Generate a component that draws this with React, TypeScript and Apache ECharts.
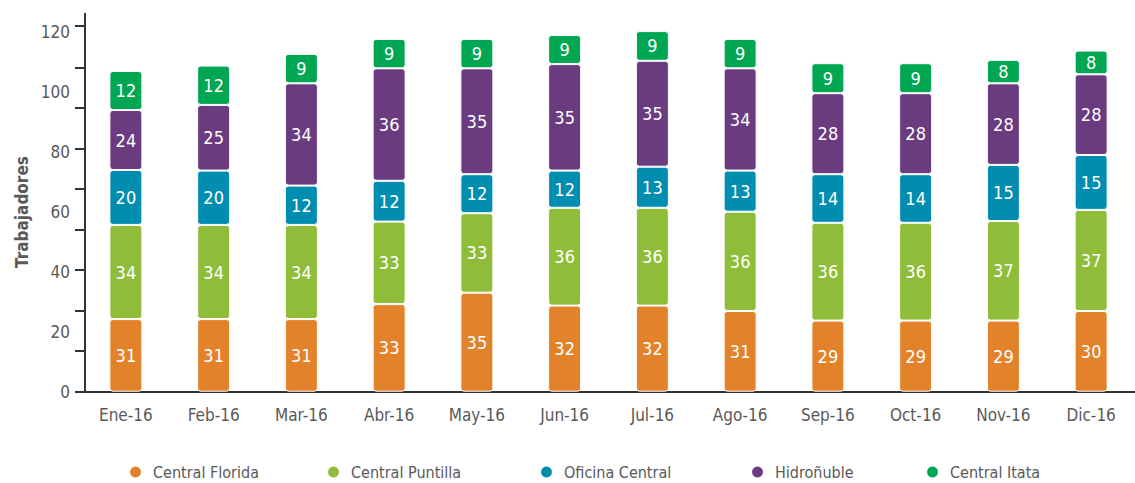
import React, { useEffect, useRef } from 'react';
import * as echarts from 'echarts';

// Categories (months)
const categories = ['Ene-16', 'Feb-16', 'Mar-16', 'Abr-16', 'May-16', 'Jun-16', 'Jul-16', 'Ago-16', 'Sep-16', 'Oct-16', 'Nov-16', 'Dic-16'];

// Series names
const seriesNames = ['Central Florida', 'Central Puntilla', 'Oficina Central', 'Hidroñuble', 'Central Itata'];

// Segment heights as drawn in the picture (axis units)
const floridaHeights = [24.2, 24.2, 24.2, 29.2, 33, 28.7, 28.7, 26.9, 23.7, 23.7, 23.7, 26.9];
const puntillaHeights = [31.4, 31.4, 31.4, 27.5, 26.5, 32.6, 32.6, 33.1, 32.6, 32.6, 33.2, 33.7];
const oficinaHeights = [18.3, 18.1, 13.1, 13.6, 13, 12.4, 13.7, 13.7, 16.2, 16.2, 18.7, 18.3];
const hidroHeights = [20, 21.9, 34.1, 37.5, 35.3, 35.5, 35.3, 34.1, 27, 27, 27.2, 26.9];
const itataHeights = [13, 13.1, 9.8, 9.8, 9.8, 9.7, 9.9, 9.8, 10, 10, 7.8, 7.9];

// Value labels printed on the segments
const floridaLabels = [31, 31, 31, 33, 35, 32, 32, 31, 29, 29, 29, 30];
const puntillaLabels = [34, 34, 34, 33, 33, 36, 36, 36, 36, 36, 37, 37];
const oficinaLabels = [20, 20, 12, 12, 12, 12, 13, 13, 14, 14, 15, 15];
const hidroLabels = [24, 25, 34, 36, 35, 35, 35, 34, 28, 28, 28, 28];
const itataLabels = [12, 12, 9, 9, 9, 9, 9, 9, 9, 9, 8, 8];

// Axis tick labels and tick marks
const yLabelValues = [0, 20, 40, 60, 80, 100, 120];
const yTickValues = [0, 13.5, 27, 40.5, 54, 67.5, 81, 94.5, 108, 122];

const FONT = "'Liberation Sans Narrow', 'DejaVu Sans Condensed', 'Roboto', sans-serif";
const GREY = '#595959';
const colors = ['#E2822A', '#8FBD3A', '#008DB0', '#6A3B7F', '#00A651'];

export default function App() {
  const ref = useRef<HTMLDivElement>(null);

  useEffect(() => {
    document.body.style.margin = '0';
    const chart = echarts.init(ref.current!, null, { renderer: 'svg' });

    const heights = [floridaHeights, puntillaHeights, oficinaHeights, hidroHeights, itataHeights];
    const labels = [floridaLabels, puntillaLabels, oficinaLabels, hidroLabels, itataLabels];

    const series = seriesNames.map((name, i) => ({
      name,
      type: 'bar',
      stack: 'total',
      barWidth: 33,
      data: heights[i],
      itemStyle: { color: colors[i], borderRadius: 3, borderColor: '#fff', borderWidth: 1 },
      label: {
        show: true,
        position: 'inside',
        color: '#fff',
        fontSize: 18,
        fontFamily: FONT,
        formatter: (p: any) => String(labels[i][p.dataIndex]),
      },
    }));

    const legendLefts = [123, 321, 534, 745, 920];
    const legends = seriesNames.map((name, i) => ({
      data: [name],
      left: legendLefts[i],
      top: 459,
      icon: 'circle',
      itemWidth: 25,
      itemHeight: 13,
      selectedMode: false,
      textStyle: { color: GREY, fontSize: 16, fontFamily: FONT },
    }));

    chart.setOption({
      animation: false,
      textStyle: { fontFamily: FONT },
      grid: { left: 82, top: 13.7, bottom: 91.3, right: -8, containLabel: false },
      legend: legends,
      xAxis: {
        type: 'category',
        data: categories,
        axisLine: { show: true, lineStyle: { color: '#333', width: 2 } },
        axisTick: { show: false },
        axisLabel: { color: GREY, fontSize: 17, fontFamily: FONT, margin: 15 },
      },
      yAxis: {
        type: 'value',
        min: 0,
        max: 126,
        interval: 20,
        offset: -3,
        axisLine: { show: true, lineStyle: { color: '#333', width: 2 } },
        axisTick: { show: true, length: 10, customValues: yTickValues, lineStyle: { color: '#333', width: 2 } },
        axisLabel: { customValues: yLabelValues, margin: 15, color: GREY, fontSize: 17, fontFamily: FONT },
        splitLine: { show: false },
      },
      graphic: [
        {
          type: 'text',
          x: 22,
          y: 212,
          rotation: Math.PI / 2,
          style: {
            text: 'Trabajadores',
            fill: GREY,
            fontSize: 17,
            fontWeight: 'bold',
            fontFamily: FONT,
            align: 'center',
            verticalAlign: 'middle',
          },
        },
      ],
      series,
    });

    return () => chart.dispose();
  }, []);

  return <div ref={ref} style={{ width: 1135, height: 483 }} />;
}
